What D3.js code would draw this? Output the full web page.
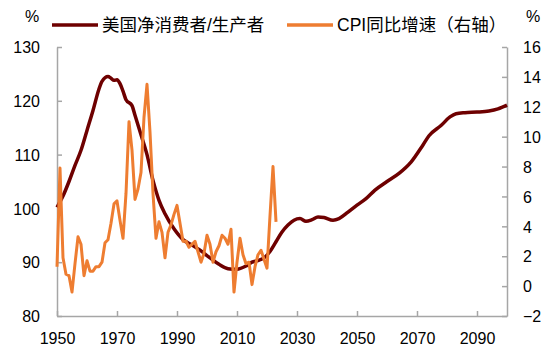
<!DOCTYPE html>
<html>
<head>
<meta charset="utf-8">
<script src="https://cdn.jsdelivr.net/npm/d3@7"></script>
<style>
  body { margin: 0; background: #fff; }
  text { font-family: "Liberation Sans", Arial, "Noto Sans CJK SC", sans-serif; }
</style>
</head>
<body>
<div id="chart-area"></div>
<script>
// 美国净消费者/生产者 (left axis)
var ratioYears = [1950, 1952, 1954, 1956, 1958, 1960, 1962, 1964, 1965, 1967, 1968, 1969, 1970, 1971, 1972, 1973, 1975,
    1976, 1978, 1980, 1982, 1984, 1986, 1989, 1992, 1995, 1998, 2001, 2004, 2007, 2010, 2013, 2015, 2017, 2019,
    2021, 2023, 2025, 2027, 2029, 2031, 2033, 2035, 2037, 2039, 2042, 2044, 2047, 2050, 2053, 2056, 2060,
    2064, 2068, 2072, 2074, 2078, 2081, 2083, 2086, 2090, 2094, 2097, 2100];
var ratioValues = [100.2, 102.3, 105, 108, 110.8, 114.5, 118.2, 122.2, 123.6, 124.5, 124.2, 123.8, 123.9, 123.2, 121.8, 120.2, 119.1,
    117.3, 113.7, 110, 105.2, 101.5, 99, 96.2, 94.2, 93.2, 92.1, 90.8, 89.6, 88.8, 88.7, 89.3, 90, 90.3, 90.8,
    92, 93.8, 95.6, 96.9, 97.8, 98.1, 97.6, 97.9, 98.4, 98.3, 97.8, 98.1, 99.3, 100.6, 101.8, 103.4, 105,
    106.5, 108.6, 111.8, 113.5, 115.4, 117, 117.6, 117.8, 117.9, 118.1, 118.5, 119.2];

// CPI同比增速 (right axis), 1950-2023
var cpiStart = 1950;
var cpiValues = [1.3, 7.9, 1.9, 0.8, 0.7, -0.4, 1.5, 3.3, 2.8, 0.7,
    1.7, 1.0, 1.0, 1.3, 1.3, 1.6, 2.9, 3.1, 4.2, 5.5,
    5.7, 4.4, 3.2, 6.2, 11.0, 9.1, 5.8, 6.5, 7.6, 11.3,
    13.5, 10.3, 6.2, 3.2, 4.3, 3.6, 1.9, 3.6, 4.1, 4.8,
    5.4, 4.2, 3.0, 3.0, 2.6, 2.8, 3.0, 2.3, 1.6, 2.2,
    3.4, 2.8, 1.6, 2.3, 2.7, 3.4, 3.2, 2.8, 3.8, -0.4,
    1.6, 3.2, 2.1, 1.5, 1.6, 0.1, 1.3, 2.1, 2.4, 1.8,
    1.2, 4.7, 8.0, 4.3];

var xTicks = [1950, 1970, 1990, 2010, 2030, 2050, 2070, 2090];
var leftTicks = [80, 90, 100, 110, 120, 130];
var rightTicks = [-2, 0, 2, 4, 6, 8, 10, 12, 14, 16];
var seriesNames = ["美国净消费者/生产者", "CPI同比增速（右轴）"];

var ratioData = ratioYears.map((y, i) => ({ year: y, value: ratioValues[i] }));
var cpiData = cpiValues.map((v, i) => ({ year: cpiStart + i, value: v }));

var margin = { top: 47, right: 43, bottom: 35, left: 57 };
var width = 550 - margin.left - margin.right;
var height = 351 - margin.top - margin.bottom;

var darkRed = "#6e0000";
var orange = "#ee7d31";
var axisColor = "#a6a6a6";

var svg = d3.select("#chart-area")
    .append("svg")
    .attr("width", 550)
    .attr("height", 351);

var g = svg.append("g")
    .attr("transform", `translate(${margin.left}, ${margin.top})`);

var x = d3.scaleLinear().domain([1950, 2100]).range([0, width]);
var yLeft = d3.scaleLinear().domain([80, 130]).range([height, 0]);
var yRight = d3.scaleLinear().domain([-2, 16]).range([height, 0]);

function styleAxis(sel) {
    sel.select(".domain").attr("stroke", axisColor).attr("stroke-width", 1.5);
    sel.selectAll(".tick line").attr("stroke", axisColor).attr("stroke-width", 1.5);
    sel.selectAll(".tick text").attr("font-size", "16px").attr("fill", "#000").attr("dy", "0.36em");
}

g.append("g")
    .attr("transform", `translate(0, ${height})`)
    .call(d3.axisBottom(x).tickValues(xTicks).tickFormat(d3.format("d"))
        .tickSizeInner(-5).tickSizeOuter(0).tickPadding(22))
    .call(styleAxis);

g.append("g")
    .call(d3.axisLeft(yLeft).tickValues(leftTicks).tickSizeInner(-5).tickSizeOuter(0).tickPadding(17))
    .call(styleAxis);

g.append("g")
    .attr("transform", `translate(${width}, 0)`)
    .call(d3.axisRight(yRight).tickValues(rightTicks).tickSizeInner(-5).tickSizeOuter(0).tickPadding(16))
    .call(styleAxis);

var ratioLine = d3.line()
    .x(d => x(d.year))
    .y(d => yLeft(d.value))
    .curve(d3.curveMonotoneX);

var cpiLine = d3.line()
    .x(d => x(d.year))
    .y(d => yRight(d.value));

g.append("path")
    .datum(ratioData)
    .attr("fill", "none")
    .attr("stroke", darkRed)
    .attr("stroke-width", 3.5)
    .attr("stroke-linejoin", "round")
    .attr("d", ratioLine);

g.append("path")
    .datum(cpiData)
    .attr("fill", "none")
    .attr("stroke", orange)
    .attr("stroke-width", 3)
    .attr("stroke-linejoin", "round")
    .attr("d", cpiLine);

// unit labels
svg.append("text")
    .attr("x", 32).attr("y", 16).attr("dy", "0.36em")
    .attr("text-anchor", "middle").attr("font-size", "16px")
    .text("%");

svg.append("text")
    .attr("x", 533).attr("y", 16).attr("dy", "0.36em")
    .attr("text-anchor", "middle").attr("font-size", "16px")
    .text("%");

// legend
var legend = svg.append("g");
var legendItems = [
    { name: seriesNames[0], color: darkRed, x1: 52, x2: 98, tx: 102 },
    { name: seriesNames[1], color: orange, x1: 287, x2: 333, tx: 337 }
];
legendItems.forEach(function (d) {
    legend.append("line")
        .attr("x1", d.x1).attr("x2", d.x2)
        .attr("y1", 25).attr("y2", 25)
        .attr("stroke", d.color)
        .attr("stroke-width", 3.5);
    legend.append("text")
        .attr("x", d.tx).attr("y", 25).attr("dy", "0.36em")
        .attr("font-size", "17.5px")
        .attr("fill", "#000")
        .text(d.name);
});
</script>
</body>
</html>
